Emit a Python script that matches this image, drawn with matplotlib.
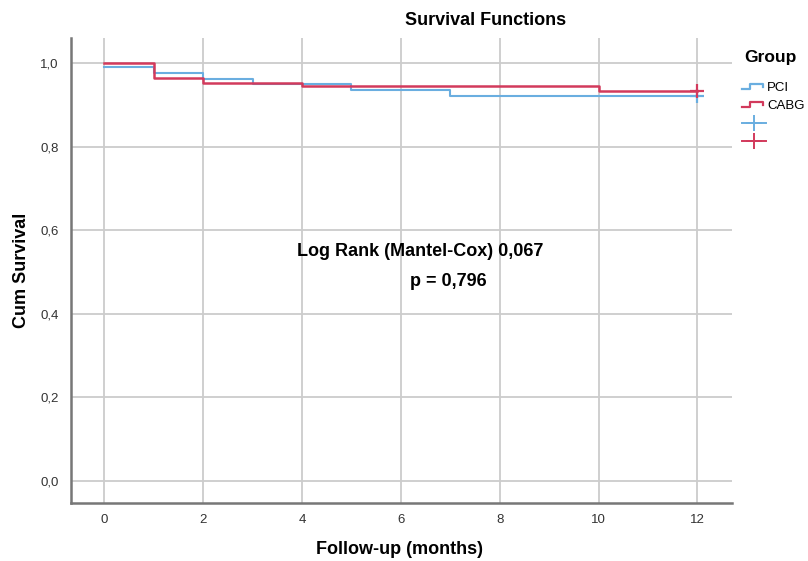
import matplotlib.pyplot as plt
from matplotlib.lines import Line2D
from matplotlib.legend_handler import HandlerBase

plt.rcParams['font.family'] = ['Liberation Sans', 'DejaVu Sans']

# Kaplan-Meier Stufen (Zeitpunkt, Überleben ab diesem Zeitpunkt)
pci_t = [0, 1, 2, 3, 5, 7, 12]
pci_s = [0.99, 0.977, 0.962, 0.950, 0.935, 0.922, 0.922]
cabg_t = [0, 1, 2, 4, 10, 12]
cabg_s = [1.0, 0.965, 0.953, 0.945, 0.932, 0.932]
censor_t = 12
groups = ['PCI', 'CABG']
xticks = [0, 2, 4, 6, 8, 10, 12]
yticks = [0.0, 0.2, 0.4, 0.6, 0.8, 1.0]
ytick_labels = ['0,0', '0,2', '0,4', '0,6', '0,8', '1,0']

blue = '#6aaee0'
red = '#d23a5c'


class StepHandler(HandlerBase):
    def create_artists(self, legend, orig, xd, yd, w, h, fontsize, trans):
        xs = [0, 0.35 * w, 0.35 * w, 0.9 * w, 0.9 * w]
        ys = [0.2 * h, 0.2 * h, 0.75 * h, 0.75 * h, 0.45 * h]
        ln = Line2D([x - xd for x in xs], [y - yd for y in ys],
                    color=orig.get_color(), lw=1.6, transform=trans)
        return [ln]


fig = plt.figure(figsize=(8.08, 5.61), dpi=100)
ax = fig.add_axes([0.088, 0.1034, 0.818, 0.829])

ax.step(pci_t, pci_s, where='post', color=blue, lw=1.5, zorder=3)
ax.step(cabg_t, cabg_s, where='post', color=red, lw=1.8, zorder=4)
ax.plot([censor_t], [pci_s[-1]], marker='+', ms=10, mew=1.6, color=blue, zorder=5)
ax.plot([censor_t], [cabg_s[-1]], marker='+', ms=10, mew=1.6, color=red, zorder=6)

ax.set_xlim(-0.67, 12.7)
ax.set_ylim(-0.053, 1.06)
ax.set_xticks(xticks)
ax.set_yticks(yticks)
ax.set_yticklabels(ytick_labels)
ax.tick_params(length=0, labelsize=9.5, colors='#333333', pad=9)
ax.tick_params(axis='x', pad=8)
ax.grid(True, color='#cccccc', lw=1.3)
ax.set_axisbelow(True)
for s in ['top', 'right']:
    ax.spines[s].set_visible(False)
for s in ['left', 'bottom']:
    ax.spines[s].set_color('#777777')
    ax.spines[s].set_linewidth(1.8)

ax.set_xlabel('Follow-up (months)', fontsize=13, fontweight='bold')
ax.set_ylabel('Cum Survival', fontsize=13, fontweight='bold')
ax.xaxis.set_label_coords(0.497, -0.082)
ax.yaxis.set_label_coords(-0.062, 0.5)
fig.text(0.601, 0.964, 'Survival Functions', fontsize=13, fontweight='bold', ha='center', va='center')

ax.text(6.4, 0.548, 'Log Rank (Mantel-Cox) 0,067', fontsize=13, fontweight='bold', ha='center', va='center')
ax.text(6.97, 0.476, 'p = 0,796', fontsize=13, fontweight='bold', ha='center', va='center')

# Legende
fig.text(0.921, 0.898, 'Group', fontsize=12.5, fontweight='bold', ha='left', va='center')
h_pci = Line2D([], [], color=blue)
h_cabg = Line2D([], [], color=red)
h_c1 = Line2D([], [], color=blue, marker='+', ms=11, mew=1.4, lw=1.4)
h_c2 = Line2D([], [], color=red, marker='+', ms=11, mew=1.4, lw=1.4)
leg = fig.legend([h_pci, h_cabg, h_c1, h_c2], groups + ['', ''],
                 loc='upper left', bbox_to_anchor=(0.91, 0.866), frameon=False,
                 fontsize=9.5, handlelength=1.8, handletextpad=0.1,
                 labelspacing=0.45, borderpad=0,
                 handler_map={h_pci: StepHandler(), h_cabg: StepHandler()})

plt.savefig('out.png')
